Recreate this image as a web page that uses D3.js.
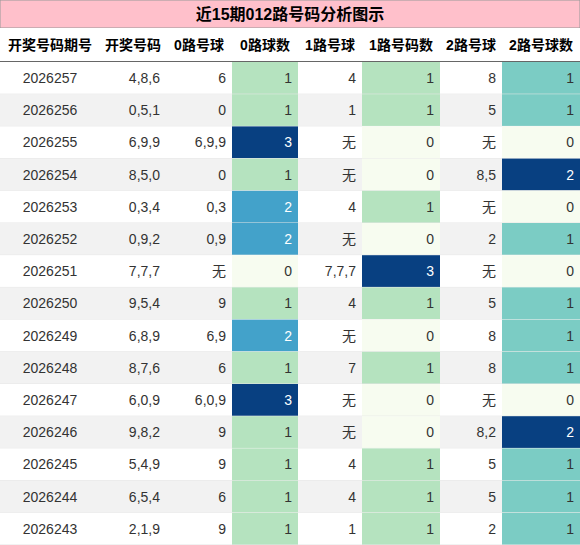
<!DOCTYPE html>
<html><head><meta charset="utf-8">
<script src="https://cdn.jsdelivr.net/npm/d3@7"></script>
<style>body{margin:0;background:#fff}</style>
</head><body><svg></svg>
<script>
const title = '近15期012路号码分析图示';
const headers = ['开奖号码期号', '开奖号码', '0路号球', '0路球数', '1路号球', '1路号码数', '2路号球', '2路号球数'];
const issues = ['2026257','2026256','2026255','2026254','2026253','2026252','2026251','2026250','2026249','2026248','2026247','2026246','2026245','2026244','2026243'];
const draws = ['4,8,6','0,5,1','6,9,9','8,5,0','0,3,4','0,9,2','7,7,7','9,5,4','6,8,9','8,7,6','6,0,9','9,8,2','5,4,9','6,5,4','2,1,9'];
const road0 = ['6','0','6,9,9','0','0,3','0,9','无','9','6,9','6','6,0,9','9','9','6','9'];
const count0 = [1,1,3,1,2,2,0,1,2,1,3,1,1,1,1];
const road1 = ['4','1','无','无','4','无','7,7,7','4','无','7','无','无','4','4','1'];
const count1 = [1,1,0,0,1,0,3,1,0,1,0,0,1,1,1];
const road2 = ['8','5','无','8,5','无','2','无','5','8','8','无','8,2','5','5','2'];
const count2 = [1,1,0,2,0,1,0,1,1,1,0,2,1,1,1];

const W = 580, H = 545, titleH = 28, headH = 34;
const colEdges = [0, 100, 166, 232, 298, 362, 440, 502, 580];
const svg = d3.select('svg').attr('width', W).attr('height', H)
  .style('font-family', '"Liberation Sans", Arial, "Noto Sans CJK SC", sans-serif');

const y = d3.scaleBand().domain(d3.range(issues.length)).range([titleH + headH, H]);

// colour ramp (fraction of column max -> colour)
const ramp = d3.scaleLinear()
  .domain([0, 0.333, 0.5, 0.667, 1])
  .range(['#f7fcf0', '#b5e3bf', '#7bccc4', '#43a2ca', '#084081']);

svg.append('rect').attr('x', 0).attr('y', 0).attr('width', W).attr('height', titleH)
  .attr('fill', '#ffc0cb').attr('stroke', '#999');
svg.append('text').attr('x', W / 2).attr('y', titleH / 2 + 6).attr('text-anchor', 'middle')
  .attr('font-size', 16).attr('font-weight', 'bold').text(title);

const head = svg.append('g');
headers.forEach((h, i) => {
  head.append('rect').attr('x', colEdges[i]).attr('y', titleH).attr('width', colEdges[i + 1] - colEdges[i])
    .attr('height', headH).attr('fill', '#fff');
  head.append('text').attr('x', (colEdges[i] + colEdges[i + 1]) / 2).attr('y', titleH + headH / 2 + 5)
    .attr('text-anchor', 'middle').attr('font-size', 14).attr('font-weight', 'bold').text(h);
});
svg.append('line').attr('x1', 0).attr('x2', W).attr('y1', titleH + headH).attr('y2', titleH + headH)
  .attr('stroke', '#333').attr('stroke-width', 1.5);

const cols = [issues, draws, road0, count0, road1, count1, road2, count2];
const countMax = {3: d3.max(count0), 5: d3.max(count1), 7: d3.max(count2)};

issues.forEach((_, r) => {
  const g = svg.append('g').attr('transform', `translate(0,${y(r)})`);
  g.append('rect').attr('width', W).attr('height', y.bandwidth()).attr('fill', r % 2 ? '#f2f2f2' : '#fff');
  cols.forEach((col, c) => {
    const x0 = colEdges[c], x1 = colEdges[c + 1];
    const v = col[r];
    let t = null;
    if (countMax[c] !== undefined) {
      t = v / countMax[c];
      g.append('rect').attr('x', x0).attr('width', x1 - x0).attr('height', y.bandwidth()).attr('fill', ramp(t));
    }
    g.append('text')
      .attr('x', c === 0 ? (x0 + x1) / 2 : x1 - 6)
      .attr('y', y.bandwidth() / 2 + 5)
      .attr('text-anchor', c === 0 ? 'middle' : 'end')
      .attr('font-size', 14)
      .attr('fill', t !== null && t > 0.6 ? '#fff' : '#333')
      .text(v);
  });
  g.append('line').attr('x1', 0).attr('x2', W).attr('y1', y.bandwidth()).attr('y2', y.bandwidth())
    .attr('stroke', '#e6e6e6');
});
</script></body></html>
